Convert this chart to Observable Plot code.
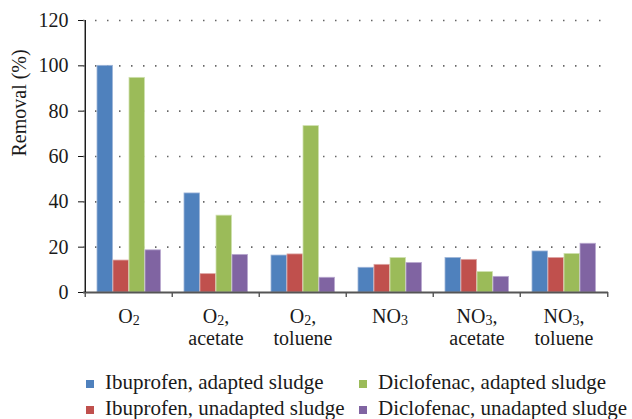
<!DOCTYPE html>
<html>
<head>
<meta charset="utf-8">
<script src="https://cdn.jsdelivr.net/npm/d3@7"></script>
<script src="https://cdn.jsdelivr.net/npm/@observablehq/plot@0.6"></script>
<style>
  html, body { margin: 0; padding: 0; background: #fff; }
  body { width: 632px; height: 419px; overflow: hidden; font-family: 'Liberation Serif', serif; }
  #chart svg { display: block; }
  .legend { position: relative; height: 64px; font-family: 'Liberation Serif', serif; font-size: 21px; line-height: 26px; color: #1a1a1a; }
  .legend .item { position: absolute; white-space: nowrap; }
  .legend .sw { display: inline-block; width: 8px; height: 8px; margin-right: 11px; vertical-align: 1px; }
</style>
</head>
<body>
<div id="chart"></div>
<div class="legend" id="legend"></div>
<script>
const categories = ["O2", "O2, acetate", "O2, toluene", "NO3", "NO3, acetate", "NO3, toluene"];
const seriesNames = [
  "Ibuprofen, adapted sludge",
  "Ibuprofen, unadapted sludge",
  "Diclofenac, adapted sludge",
  "Diclofenac, unadapted sludge"
];
const ibuprofenAdapted    = [100, 43.7, 16.3, 10.9, 15.2, 18.1];
const ibuprofenUnadapted  = [14.1, 8.1, 16.8, 12.2, 14.4, 15.2];
const diclofenacAdapted   = [94.7, 33.9, 73.4, 15.2, 9.0, 17.0];
const diclofenacUnadapted = [18.6, 16.6, 6.5, 13.0, 6.9, 21.5];
const yTicks = [0, 20, 40, 60, 80, 100, 120];
const colors = ["#4F81BD", "#C0504D", "#9BBB59", "#8064A2"];
const strokes = ["#9db5d8", "#dca4a2", "#cfe0ae", "#b9a9cf"];

const seriesValues = [ibuprofenAdapted, ibuprofenUnadapted, diclofenacAdapted, diclofenacUnadapted];
const data = [];
seriesValues.forEach((vals, i) => vals.forEach((v, j) => data.push({category: categories[j], series: seriesNames[i], value: v})));

const width = 632, height = 355, mL = 83, mR = 24;
const band = (width - mL - mR) / categories.length;
const barW = 16, groupOffset = 12;
const FONT = "Liberation Serif";

const barMarks = seriesNames.map((s, i) => Plot.barY(data.filter(d => d.series === s), {
  x: "category", y: "value", fill: colors[i], stroke: strokes[i], strokeWidth: 0.8,
  insetLeft: groupOffset + barW * i,
  insetRight: band - groupOffset - barW * (i + 1)
}));

const chart = Plot.plot({
  width, height,
  marginLeft: mL, marginRight: mR, marginTop: 20, marginBottom: 63,
  style: {fontFamily: FONT, fontSize: "20px", color: "#1a1a1a"},
  x: {domain: categories, padding: 0, label: null},
  y: {domain: [0, 120], label: null},
  marks: [
    Plot.ruleY(yTicks.filter(t => t > 0), {y: d => d, stroke: "#666", strokeWidth: 1.6, strokeDasharray: "1.5 10.5"}),
    ...barMarks,
    Plot.ruleY([0], {stroke: "#555", strokeWidth: 2}),
    Plot.ruleX([categories[0]], {x: d => d, dx: -band / 2, y1: 0, y2: 120, stroke: "#111", strokeWidth: 1.4}),
    Plot.ruleX(categories, {x: d => d, dx: -band / 2, y1: 0, y2: -2.2, stroke: "#555", strokeWidth: 1.4}),
    Plot.ruleX([categories[categories.length - 1]], {x: d => d, dx: band / 2, y1: 0, y2: -2.2, stroke: "#555", strokeWidth: 1.4}),
    Plot.axisY({ticks: yTicks, tickSize: 5, tickPadding: 10, label: null, stroke: "#111", fontFamily: FONT, fontSize: 20}),
    Plot.axisX({tickSize: 0, tickPadding: 15, label: null, lineHeight: 1.1, fontFamily: FONT, fontSize: 20, tickFormat: d => d.replace(", ", ",\n")}),
    Plot.text(["Removal (%)"], {frameAnchor: "left", rotate: -90, dx: -64, lineAnchor: "middle", text: d => d, fontFamily: FONT, fontSize: 20})
  ]
});
document.getElementById("chart").appendChild(chart);

// subscript digits in chemical formulas (O2, NO3)
const NS = "http://www.w3.org/2000/svg";
function subscriptify(el) {
  const s = el.textContent;
  if (!/\d/.test(s)) return;
  el.textContent = "";
  s.split(/(\d)/).forEach(part => {
    if (!part) return;
    if (/^\d$/.test(part)) {
      const t = document.createElementNS(NS, "tspan");
      t.setAttribute("font-size", "14");
      t.setAttribute("baseline-shift", "-2");
      t.textContent = part;
      el.appendChild(t);
    } else {
      el.appendChild(document.createTextNode(part));
    }
  });
}
chart.querySelectorAll('g[aria-label="x-axis tick label"] text').forEach(text => {
  const spans = text.querySelectorAll("tspan");
  if (spans.length) spans.forEach(subscriptify); else subscriptify(text);
});

// legend
const legend = document.getElementById("legend");
const pos = [[86, 14], [86, 40], [359, 14], [359, 40]];
seriesNames.forEach((name, i) => {
  const it = document.createElement("div");
  it.className = "item";
  it.style.left = pos[i][0] + "px";
  it.style.top = pos[i][1] + "px";
  const sw = document.createElement("span");
  sw.className = "sw";
  sw.style.background = colors[i];
  it.appendChild(sw);
  it.appendChild(document.createTextNode(name));
  legend.appendChild(it);
});
</script>
</body>
</html>
